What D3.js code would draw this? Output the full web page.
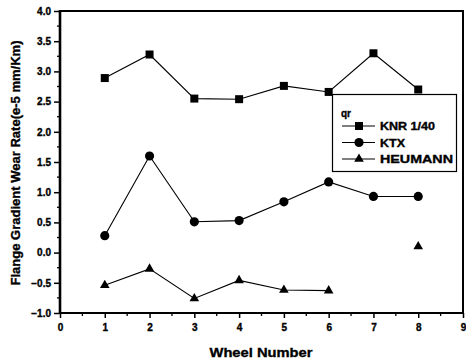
<!DOCTYPE html>
<html lang="en">
<head>
<meta charset="UTF-8">
<title>Flange Gradient Wear Rate</title>
<style>
  body { margin: 0; background: #fff; }
  svg { display: block; }
  text { font-family: "Liberation Sans", Arial, sans-serif; font-weight: bold; fill: #000; stroke: #000; stroke-width: 0.35px; }
</style>
</head>
<body>
<div id="chart"></div>
<script src="https://d3js.org/d3.v7.min.js"></script>
<script>
// data
var wheels = [1, 2, 3, 4, 5, 6, 7, 8];
var knr = [2.89, 3.28, 2.55, 2.54, 2.76, 2.66, 3.30, 2.70];
var ktx = [0.28, 1.60, 0.51, 0.53, 0.84, 1.17, 0.93, 0.93];
var heumann = [-0.54, -0.27, -0.76, -0.46, -0.62, -0.63, null, 0.10];
var seriesNames = ['KNR 1/40', 'KTX', 'HEUMANN'];
var xTicks = [0, 1, 2, 3, 4, 5, 6, 7, 8, 9];
var yTicks = [-1.0, -0.5, 0.0, 0.5, 1.0, 1.5, 2.0, 2.5, 3.0, 3.5, 4.0];

var W = 466, H = 364;
var svg = d3.select('#chart').append('svg').attr('width', W).attr('height', H);

var x = d3.scaleLinear().domain([0, 9]).range([60, 463]);
var y = d3.scaleLinear().domain([-1, 4]).range([313, 11]);

// frame
svg.append('line').attr('x1', 60).attr('x2', 60).attr('y1', 10).attr('y2', 314)
  .style('stroke', '#000').style('stroke-width', 2.6);
svg.append('line').attr('x1', 59).attr('x2', 464).attr('y1', 313).attr('y2', 313)
  .style('stroke', '#000').style('stroke-width', 2.2);
svg.append('line').attr('x1', 59).attr('x2', 464).attr('y1', 11).attr('y2', 11)
  .style('stroke', '#000').style('stroke-width', 2);
svg.append('line').attr('x1', 463).attr('x2', 463).attr('y1', 10).attr('y2', 314)
  .style('stroke', '#000').style('stroke-width', 2);

// left axis
var yAxis = d3.axisLeft(y).tickValues(yTicks).tickSize(6).tickPadding(3)
  .tickFormat(d3.format('.1f'));
var gy = svg.append('g').attr('transform', 'translate(60,0)').call(yAxis);
gy.select('.domain').remove();
gy.selectAll('.tick line').style('stroke-width', 1.5);
gy.selectAll('.tick text').style('font-size', '10px').style('font-family', '"Liberation Sans", Arial, sans-serif')
  .style('font-weight', 'bold');
// minor y ticks
var yMinor = d3.range(-0.75, 4, 0.5);
svg.append('g').selectAll('line').data(yMinor).join('line')
  .attr('x1', 57).attr('x2', 60).attr('y1', d => y(d)).attr('y2', d => y(d))
  .style('stroke', '#000').style('stroke-width', 1.3);

// bottom axis
var xAxis = d3.axisBottom(x).tickValues(xTicks).tickSize(5).tickPadding(6)
  .tickFormat(d3.format('d'));
var gx = svg.append('g').attr('transform', 'translate(0,313)').call(xAxis);
gx.select('.domain').remove();
gx.selectAll('.tick line').style('stroke-width', 1.5);
gx.selectAll('.tick text').style('font-size', '10px').style('font-family', '"Liberation Sans", Arial, sans-serif')
  .style('font-weight', 'bold');
var xMinor = d3.range(0.5, 9, 1);
svg.append('g').selectAll('line').data(xMinor).join('line')
  .attr('x1', d => x(d)).attr('x2', d => x(d)).attr('y1', 313).attr('y2', 316)
  .style('stroke', '#000').style('stroke-width', 1.3);

// axis titles
svg.append('text').attr('transform', 'translate(20,163) rotate(-90)')
  .attr('text-anchor', 'middle').style('font-size', '13px')
  .attr('textLength', 245).attr('lengthAdjust', 'spacingAndGlyphs')
  .text('Flange Gradient Wear Rate(e-5 mm/Km)');
svg.append('text').attr('x', 261).attr('y', 357)
  .attr('text-anchor', 'middle').style('font-size', '13px')
  .attr('textLength', 103).attr('lengthAdjust', 'spacingAndGlyphs')
  .text('Wheel Number');

// series
var line = d3.line()
  .defined(d => d[1] !== null)
  .x(d => x(d[0])).y(d => y(d[1]));

function pairs(vals) { return wheels.map((w, i) => [w, vals[i]]); }

var symSquare = d3.symbol().type(d3.symbolSquare).size(64);
var symCircle = d3.symbol().type(d3.symbolCircle).size(66);
var symTriangle = d3.symbol().type(d3.symbolTriangle).size(40);

var series = [
  { name: seriesNames[0], data: pairs(knr), sym: symSquare },
  { name: seriesNames[1], data: pairs(ktx), sym: symCircle },
  { name: seriesNames[2], data: pairs(heumann), sym: symTriangle }
];

series.forEach(function (s) {
  svg.append('path').datum(s.data).attr('d', line)
    .style('fill', 'none').style('stroke', '#000').style('stroke-width', 1.1);
  svg.append('g').selectAll('path').data(s.data.filter(d => d[1] !== null)).join('path')
    .attr('transform', d => 'translate(' + x(d[0]) + ',' + y(d[1]) + ')')
    .attr('d', s.sym).style('fill', '#000');
});

// legend
var lg = svg.append('g');
lg.append('rect').attr('x', 332.5).attr('y', 94.5).attr('width', 124).attr('height', 77)
  .style('fill', '#fff').style('stroke', '#000').style('stroke-width', 1.2);
lg.append('text').attr('x', 341).attr('y', 117).style('font-size', '10px').text('qr');
var legW = [55, 25, 73];
series.forEach(function (s, i) {
  var cy = 126 + i * 16.5;
  lg.append('line').attr('x1', 342).attr('x2', 375).attr('y1', cy).attr('y2', cy)
    .style('stroke', '#000').style('stroke-width', 1.1);
  lg.append('path').attr('transform', 'translate(359,' + cy + ')').attr('d', s.sym).style('fill', '#000');
  lg.append('text').attr('x', 380).attr('y', cy + 4).style('font-size', '11px')
    .attr('textLength', legW[i]).attr('lengthAdjust', 'spacingAndGlyphs').text(s.name);
});
</script>
</body>
</html>
